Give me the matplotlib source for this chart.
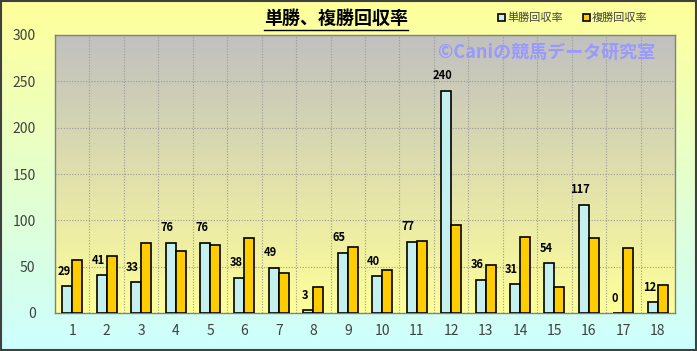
import numpy as np
import matplotlib.pyplot as plt
from matplotlib.colors import LinearSegmentedColormap

plt.rcParams['font.family'] = ['Noto Sans CJK JP', 'DejaVu Sans']

races = [str(i) for i in range(1, 19)]
win_rate = [29, 41, 33, 76, 76, 38, 49, 3, 65, 40, 77, 240, 36, 31, 54, 117, 0, 12]
place_rate = [57, 61, 76, 67, 73, 81, 43, 28, 71, 46, 78, 95, 52, 82, 28, 81, 70, 30]
y_ticks = [0, 50, 100, 150, 200, 250, 300]

fig = plt.figure(figsize=(6.97, 3.51), dpi=100)

# figure background gradient (yellow top -> cyan bottom)
bg = fig.add_axes([0, 0, 1, 1], zorder=-10)
fig_cmap = LinearSegmentedColormap.from_list('figbg', ['#CCFFFF', '#FFFF99'])
bg.imshow(np.linspace(0, 1, 256).reshape(-1, 1), aspect='auto', cmap=fig_cmap,
          origin='lower', extent=[0, 1, 0, 1])
bg.set_xlim(0, 1)
bg.set_ylim(0, 1)
bg.axis('off')
bg.add_patch(plt.Rectangle((0.002, 0.003), 0.996, 0.994, fill=False,
                           edgecolor='#404040', lw=1.5, transform=bg.transAxes))

ax = fig.add_axes([55 / 697, 1 - 313 / 351, 620 / 697, 278 / 351])
x = np.arange(len(races))
ax.set_xlim(-0.5, len(races) - 0.5)
ax.set_ylim(0, 300)

# plot area gradient (gray top -> yellow bottom)
pa_cmap = LinearSegmentedColormap.from_list('pabg', ['#FFFF99', '#C0C0C0'])
ax.imshow(np.linspace(0, 1, 256).reshape(-1, 1), aspect='auto', cmap=pa_cmap,
          origin='lower', extent=[-0.5, len(races) - 0.5, 0, 300], zorder=0)

for b in np.arange(0.5, len(races) - 0.5, 1):
    ax.axvline(b, color='#9A9A9A', lw=0.8, ls=(0, (1, 1.5)), zorder=1)
for t in y_ticks[1:-1]:
    ax.axhline(t, color='#9A9A9A', lw=0.8, ls=(0, (1, 1.5)), zorder=1)

w = 0.29
ax.bar(x - w / 2, win_rate, w, color='#C4F0F0', edgecolor='#000000', lw=1.2,
       zorder=3, label='単勝回収率')
ax.bar(x + w / 2, place_rate, w, color='#FFCC00', edgecolor='#000000', lw=1.2,
       zorder=3, label='複勝回収率')

for xi, v in zip(x, win_rate):
    ax.text(xi - w / 2 - 0.1, v + 9, str(v), ha='center', va='bottom',
            fontsize=8, fontweight='bold', color='#000000', zorder=4)

ax.set_xticks(x)
ax.set_xticklabels(races)
ax.set_yticks(y_ticks)
ax.tick_params(axis='both', labelsize=10, colors='#404040', length=0, pad=8)
ax.tick_params(axis='y', pad=14)
for s in ax.spines.values():
    s.set_color('#808080')
    s.set_linewidth(1.0)

fig.text(336 / 697, 1 - 18 / 351, '単勝、複勝回収率', ha='center', va='center',
         fontsize=13, fontweight='bold', color='#000000')
fig.add_artist(plt.Line2D([264 / 697, 408 / 697], [1 - 30 / 351, 1 - 30 / 351],
                          color='#000000', lw=1.0))

fig.text(438 / 697, 1 - 52 / 351, '©Caniの競馬データ研究室', ha='left', va='center',
         fontsize=13, fontweight='bold', color='#9999FF', zorder=5)

leg = fig.legend(loc='center', bbox_to_anchor=(573 / 697, 1 - 18 / 351), ncol=2,
                 frameon=False, fontsize=8, handlelength=0.6, handleheight=0.6,
                 handletextpad=0.2, columnspacing=1.8)
for t in leg.get_texts():
    t.set_color('#404040')

fig.savefig('out.png', dpi=100)
